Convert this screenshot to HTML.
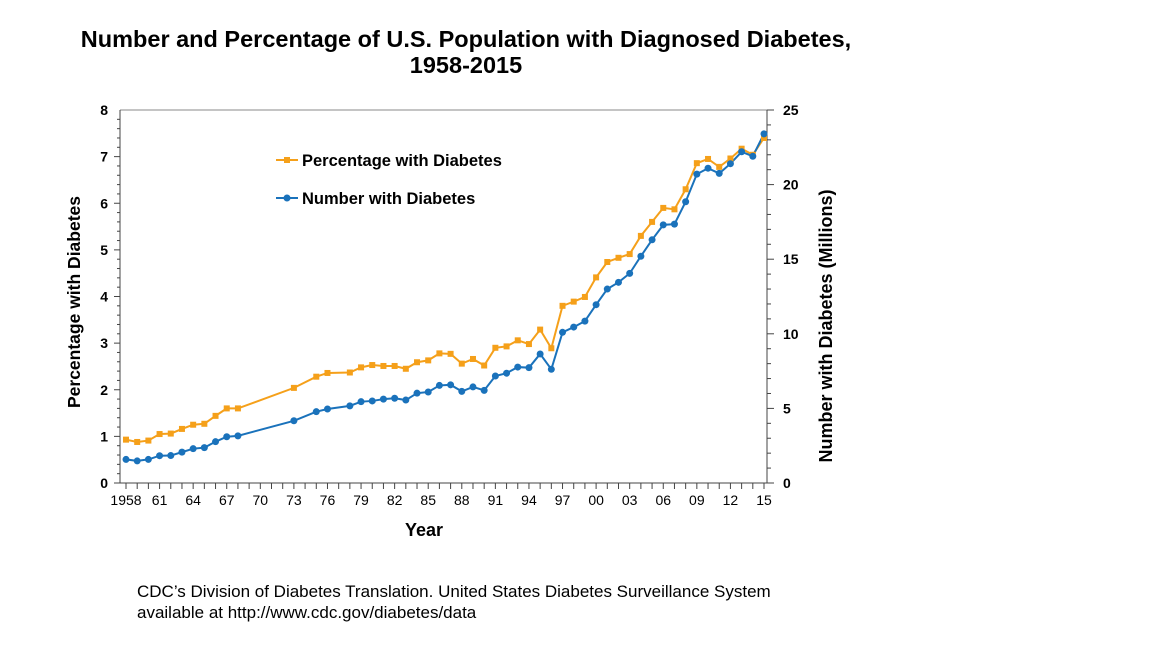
<!DOCTYPE html>
<html><head><meta charset="utf-8"><style>
body{margin:0;background:#fff;width:1152px;height:648px;overflow:hidden;font-family:"Liberation Sans",Arial,sans-serif}
</style></head><body>
<svg width="1152" height="648" font-family="Liberation Sans, Arial, sans-serif">
<text x="466" y="47" text-anchor="middle" font-size="23.5" font-weight="bold">Number and Percentage of U.S. Population with Diagnosed Diabetes,</text>
<text x="466" y="73" text-anchor="middle" font-size="23.5" font-weight="bold">1958-2015</text>
<g id="axes"></g>
<g id="marks"></g>
<text transform="translate(80,302) rotate(-90)" text-anchor="middle" font-size="17.5" font-weight="bold">Percentage with Diabetes</text>
<text transform="translate(832,326) rotate(-90)" text-anchor="middle" font-size="18" font-weight="bold">Number with Diabetes (Millions)</text>
<text x="424" y="536" text-anchor="middle" font-size="18" font-weight="bold">Year</text>
<g>
<line x1="276" y1="160" x2="298" y2="160" stroke="#f5a01a" stroke-width="2"/><rect x="284" y="157" width="6" height="6" fill="#f5a01a"/>
<text x="302" y="166" font-size="16.5" font-weight="bold">Percentage with Diabetes</text>
<line x1="276" y1="198" x2="298" y2="198" stroke="#1a72bb" stroke-width="2"/><circle cx="287" cy="198" r="3.5" fill="#1a72bb"/>
<text x="302" y="204" font-size="16.5" font-weight="bold">Number with Diabetes</text>
</g>
<text x="137" y="597" font-size="17">CDC’s Division of Diabetes Translation. United States Diabetes Surveillance System</text>
<text x="137" y="618" font-size="17">available at http://www.cdc.gov/diabetes/data</text>
</svg>
<script>
const years=[1958,1959,1960,1961,1962,1963,1964,1965,1966,1967,1968,1973,1975,1976,1978,1979,1980,1981,1982,1983,1984,1985,1986,1987,1988,1989,1990,1991,1992,1993,1994,1995,1996,1997,1998,1999,2000,2001,2002,2003,2004,2005,2006,2007,2008,2009,2010,2011,2012,2013,2014,2015];
const percent=[0.93,0.88,0.91,1.05,1.06,1.16,1.25,1.27,1.44,1.60,1.60,2.04,2.28,2.36,2.37,2.48,2.53,2.51,2.51,2.45,2.59,2.63,2.78,2.77,2.56,2.66,2.52,2.90,2.93,3.06,2.98,3.29,2.89,3.80,3.89,3.99,4.41,4.74,4.83,4.91,5.30,5.60,5.90,5.87,6.30,6.86,6.95,6.78,6.96,7.17,7.04,7.40];
const number=[1.58,1.48,1.58,1.83,1.84,2.07,2.30,2.37,2.77,3.10,3.16,4.17,4.78,4.96,5.17,5.45,5.50,5.62,5.68,5.56,6.02,6.10,6.54,6.58,6.14,6.44,6.21,7.17,7.36,7.77,7.73,8.65,7.62,10.10,10.45,10.85,11.95,13.00,13.45,14.05,15.20,16.30,17.30,17.35,18.85,20.70,21.10,20.75,21.40,22.20,21.90,23.40];
const leftTicks=[0,1,2,3,4,5,6,7,8];
const rightTicks=[0,5,10,15,20,25];
const xTickLabels=["1958","61","64","67","70","73","76","79","82","85","88","91","94","97","00","03","06","09","12","15"];
const NS="http://www.w3.org/2000/svg";
const X0=120,X1=767,Y0=483,Y1=110;
const xs=y=>126+(y-1958)*(764-126)/57;
const yl=v=>Y0-(Y0-Y1)*v/8;
const yr=v=>Y0-(Y0-Y1)*v/25;
function mk(t,a,p){const e=document.createElementNS(NS,t);for(const k in a)e.setAttribute(k,a[k]);p.appendChild(e);return e;}
const ax=document.getElementById('axes'),mg=document.getElementById('marks');
mk('line',{x1:X0,y1:Y1,x2:X1,y2:Y1,stroke:'#888','stroke-width':1},ax);
mk('line',{x1:X0,y1:Y1,x2:X0,y2:Y0,stroke:'#444','stroke-width':1},ax);
mk('line',{x1:X1,y1:Y1,x2:X1,y2:Y0,stroke:'#444','stroke-width':1},ax);
mk('line',{x1:X0,y1:Y0,x2:X1,y2:Y0,stroke:'#444','stroke-width':1},ax);
for(let v=0;v<=8;v+=0.2){mk('line',{x1:X0-(Math.abs(v-Math.round(v))<0.01?6:3),y1:yl(v),x2:X0,y2:yl(v),stroke:'#444'},ax);}
leftTicks.forEach(v=>{const t=mk('text',{x:X0-12,y:yl(v)+5,'text-anchor':'end','font-size':14,'font-weight':'bold'},ax);t.textContent=v;

});
for(let v=0;v<=25;v++){mk('line',{x1:X1,y1:yr(v),x2:X1+(v%5==0?7:4),y2:yr(v),stroke:'#444'},ax);}
rightTicks.forEach(v=>{const t=mk('text',{x:X1+16,y:yr(v)+5,'font-size':14,'font-weight':'bold'},ax);t.textContent=v;

});
for(let y=1958;y<=2015;y++){mk('line',{x1:xs(y),y1:Y0,x2:xs(y),y2:Y0+6,stroke:'#444'},ax);}
xTickLabels.forEach((l,i)=>{const t=mk('text',{x:xs(1958+3*i),y:Y0+22,'text-anchor':'middle','font-size':14},ax);t.textContent=l;

});
const pl=mk('polyline',{points:years.map((y,i)=>xs(y)+','+yl(percent[i])).join(' '),fill:'none',stroke:'#f5a01a','stroke-width':2},mg);


const nl=mk('polyline',{points:years.map((y,i)=>xs(y)+','+yr(number[i])).join(' '),fill:'none',stroke:'#1a72bb','stroke-width':2},mg);


years.forEach((y,i)=>{
const r=mk('rect',{x:xs(y)-3,y:yl(percent[i])-3,width:6,height:6,fill:'#f5a01a'},mg);


const c=mk('circle',{cx:xs(y),cy:yr(number[i]),r:3.5,fill:'#1a72bb'},mg);


});
</script>
</body></html>
